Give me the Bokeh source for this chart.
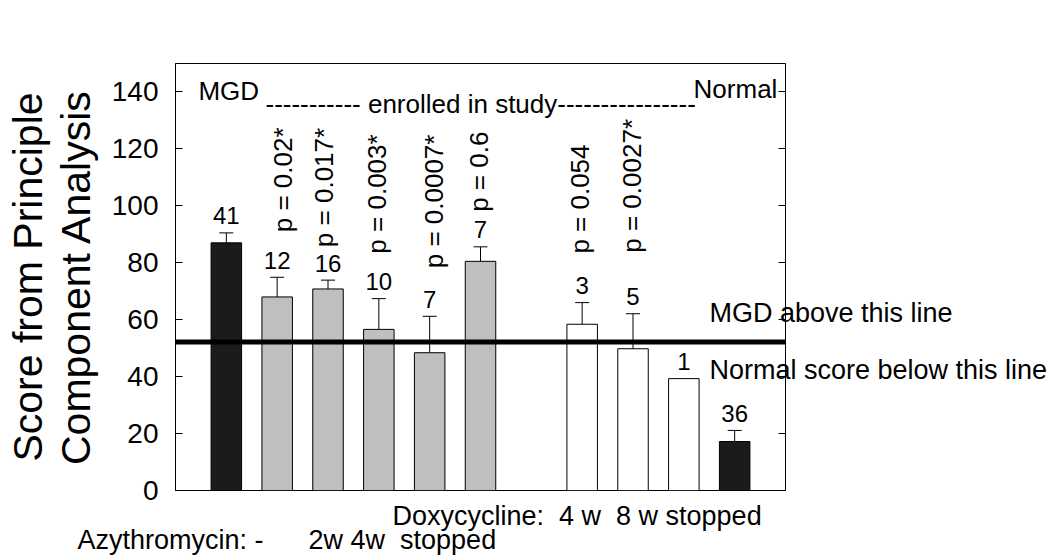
import math
from bokeh.plotting import figure
from bokeh.models import (ColumnDataSource, Range1d, LinearAxis, FixedTicker,
                          Span, Label, Whisker, TeeHead)
from bokeh.core.properties import value
from bokeh.embed import file_html
from bokeh.resources import INLINE

# ---------------- data ----------------
slots = ["MGD", "AZM 1", "AZM 2", "AZM 3", "AZM 4", "AZM 5", "",
         "DOXY 4 w", "DOXY 8 w", "DOXY stopped", "Normal"]
groups = ["MGD", "AZM", "AZM", "AZM", "AZM", "AZM", None,
          "DOXY", "DOXY", "DOXY", "Normal"]
scores = [87.0, 68.0, 70.8, 56.6, 48.4, 80.5, None, 58.4, 49.8, 39.3, 17.2]
sems = [3.5, 6.9, 3.1, 10.8, 12.8, 5.1, None, 7.6, 12.3, 0.0, 3.9]
n_counts = ["41", "12", "16", "10", "7", "7", None, "3", "5", "1", "36"]
p_values = [None, "p = 0.02*", "p = 0.017*", "p = 0.003*", "p = 0.0007*",
            "p = 0.6", None, "p = 0.054", "p = 0.0027*", None, None]
threshold = 52.2
y_ticks = [0, 20, 40, 60, 80, 100, 120, 140]
y_title = "Score from Principle\nComponent Analysis"
doxy_row = "Doxycycline:  4 w  8 w stopped"
azm_row = "Azythromycin: -      2w 4w  stopped"
above_text = "MGD above this line"
below_text = "Normal score below this line"

# ---------------- style ----------------
FONT = "Liberation Sans"
NB = "\u00a0"
group_colors = {"MGD": "#1b1b1b", "Normal": "#1b1b1b", "AZM": "#bfbfbf", "DOXY": "#ffffff"}
# pixel gaps (layout) for rotated p labels above the error caps
p_gap_px = {1: 45, 2: 33, 3: 45, 4: 48, 5: 35, 7: 49, 8: 61}
p_dx_px = {1: 7, 2: -3, 3: -1, 4: 5, 5: -1, 7: -1, 8: 0}

xs, tops, uppers, cols, ns = [], [], [], [], []
for i, g in enumerate(groups):
    if g is None:
        continue
    xs.append(i)
    tops.append(scores[i])
    uppers.append(scores[i] + sems[i])
    cols.append(group_colors[g])
    ns.append(n_counts[i])
bsrc = ColumnDataSource(dict(x=xs, top=tops, upper=uppers, color=cols, n=ns))

wx, wl, wu = [], [], []
for i, g in enumerate(groups):
    if g is None or not sems[i]:
        continue
    wx.append(i); wl.append(scores[i]); wu.append(scores[i] + sems[i])
wsrc = ColumnDataSource(dict(x=wx, lower=wl, upper=wu))

px, py, pt, pdx, pdy = [], [], [], [], []
for i, t in enumerate(p_values):
    if t is None:
        continue
    px.append(i); py.append(scores[i] + sems[i]); pt.append(t)
    pdx.append(-1 + p_dx_px[i]); pdy.append(-p_gap_px[i])
psrc = ColumnDataSource(dict(x=px, y=py, t=pt, dx=pdx, dy=pdy))

# ---------------- figure ----------------
p = figure(width=1050, height=557, x_range=Range1d(-1, len(slots)),
           y_range=Range1d(0, 150), output_backend="svg", toolbar_location=None,
           min_border_left=175, min_border_right=265, min_border_top=63,
           min_border_bottom=67)
p.xaxis.visible = False
p.xgrid.visible = False
p.ygrid.visible = False
p.outline_line_color = "black"
p.outline_line_width = 1
p.outline_line_alpha = 1.0
p.background_fill_color = "white"
p.border_fill_color = "white"

ya = p.yaxis[0]
ya.ticker = FixedTicker(ticks=y_ticks)
ya.major_tick_in = 7
ya.major_tick_out = 0
ya.minor_tick_line_color = None
ya.axis_line_color = "black"
ya.major_tick_line_color = "black"
ya.major_label_text_font = FONT
ya.major_label_text_font_size = "28px"
ya.major_label_text_color = "black"
ya.major_label_standoff = 17
ya.axis_label = y_title
ya.axis_label_text_font = FONT
ya.axis_label_text_font_size = "41px"
ya.axis_label_text_font_style = "normal"
ya.axis_label_text_color = "black"
ya.axis_label_text_line_height = 1.04
ya.axis_label_standoff = 10

# right-hand ticks pointing inwards
ra = LinearAxis(ticker=FixedTicker(ticks=y_ticks), major_tick_in=7, major_tick_out=0,
                minor_tick_line_color=None, axis_line_color="black",
                major_tick_line_color="black",
                major_label_overrides={t: "" for t in y_ticks})
p.add_layout(ra, "right")

# right-hand notes on both sides of the threshold line
note_axis = LinearAxis(ticker=FixedTicker(ticks=[62.2, 42.5]), major_tick_in=0,
                       major_tick_out=0, minor_tick_line_color=None,
                       axis_line_color=None, major_tick_line_color=None,
                       major_label_overrides={62.2: above_text.replace(" ", NB),
                                              42.5: below_text.replace(" ", NB)},
                       major_label_text_font=FONT, major_label_text_font_size="27px",
                       major_label_text_color="black", major_label_standoff=-76)
p.add_layout(note_axis, "right")

# treatment rows below the chart
doxy_axis = LinearAxis(ticker=FixedTicker(ticks=[6.9]), major_tick_in=0, major_tick_out=0,
                       minor_tick_line_color=None, axis_line_color=None,
                       major_tick_line_color=None,
                       major_label_overrides={6.9: doxy_row.replace(" ", NB)},
                       major_label_text_font=FONT, major_label_text_font_size="27px",
                       major_label_text_color="black", major_label_standoff=10)
p.add_layout(doxy_axis, "below")
azm_axis = LinearAxis(ticker=FixedTicker(ticks=[1.19]), major_tick_in=0, major_tick_out=0,
                      minor_tick_line_color=None, axis_line_color=None,
                      major_tick_line_color=None,
                      major_label_overrides={1.19: azm_row.replace(" ", NB)},
                      major_label_text_font=FONT, major_label_text_font_size="27px",
                      major_label_text_color="black", major_label_standoff=-9)
p.add_layout(azm_axis, "below")

p.vbar(x="x", top="top", width=0.6, source=bsrc, fill_color="color",
       line_color="black", line_width=1)

p.add_layout(Whisker(source=wsrc, base="x", lower="lower", upper="upper",
                     dimension="height", line_color="black", line_width=1,
                     upper_head=TeeHead(size=14, line_color="black", line_width=1),
                     lower_head=None))

p.add_layout(Span(location=threshold, dimension="width", line_color="black",
                  line_width=5))

p.text(x="x", y="upper", text="n", source=bsrc, text_align="center",
       text_baseline="alphabetic", y_offset=-17, text_font=value(FONT),
       text_font_size="24px", text_color="black")

p.text(x="x", y="y", text="t", source=psrc, angle=math.pi / 2,
       text_align="left", text_baseline="alphabetic", x_offset="dx", y_offset="dy",
       text_font=value(FONT), text_font_size="26px", text_color="black")


def lab(x, y, text, size="26px", align="left"):
    p.add_layout(Label(x=x, y=y, text=text, text_font=FONT, text_font_size=size,
                       text_align=align, text_baseline="alphabetic",
                       text_color="black"))


lab(-0.55, 140.2, "MGD")
lab(0.77, 135.6, "-----------" + " enrolled in study" + "----------------")
lab(10.84, 140.9, "Normal", align="right")

open("out.html", "w").write(file_html(p, INLINE))
